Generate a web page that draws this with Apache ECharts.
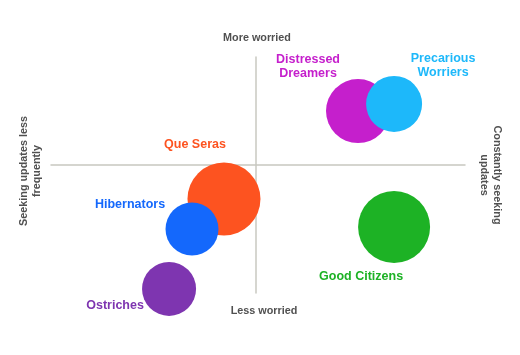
<!DOCTYPE html>
<html>
<head>
<meta charset="utf-8">
<script src="https://cdn.jsdelivr.net/npm/echarts@6/dist/echarts.min.js"></script>
<style>
  html, body { margin: 0; padding: 0; background: #fff; }
  #chart { width: 520px; height: 355px; }
</style>
</head>
<body>
<div id="chart"></div>
<script>
  // segments of people: x = how often they seek updates, y = how worried
  const segments = ['Distressed\nDreamers', 'Precarious\nWorriers', 'Que Seras', 'Hibernators', 'Good Citizens', 'Ostriches'];
  const updateSeeking = [24.9, 33.7, -7.8, -15.6, 33.7, -21.2];
  const worry = [24.8, 28.1, -16.2, -30.2, -29.2, -58.1];
  const bubbleSize = [64, 56, 73, 53, 72, 54];

  const colors = ['#c51fcc', '#1db8fa', '#fd5320', '#1468fc', '#1db225', '#7e35b0'];
  // where each label sits relative to its bubble centre
  const labelOffsets = [[-50, -45], [49, -38], [-29, -54], [-62, -25], [-33, 50], [-54, 17]];

  const chart = echarts.init(document.getElementById('chart'));

  const data = segments.map((name, i) => ({
    name: name,
    value: [updateSeeking[i], worry[i], bubbleSize[i]],
    itemStyle: {color: colors[i]},
    label: {
      show: true,
      position: 'inside',
      offset: labelOffsets[i],
      color: colors[i],
      formatter: '{b}'
    }
  }));

  const axisLine = {
    onZero: true,
    lineStyle: {color: '#c8c8c0', width: 1.5}
  };

  const axisFont = 'bold 10.8px "Liberation Sans", Arial, sans-serif';
  const axisColor = '#505050';

  const option = {
    animation: false,
    grid: {left: 51, right: 55, top: 57, bottom: 62},
    xAxis: {
      type: 'value',
      min: -50,
      max: 51,
      axisLine: axisLine,
      axisTick: {show: false},
      axisLabel: {show: false},
      splitLine: {show: false}
    },
    yAxis: {
      type: 'value',
      min: -60,
      max: 50,
      axisLine: axisLine,
      axisTick: {show: false},
      axisLabel: {show: false},
      splitLine: {show: false}
    },
    series: [{
      type: 'scatter',
      data: data,
      symbolSize: val => val[2],
      itemStyle: {opacity: 1},
      label: {
        fontFamily: '"Liberation Sans", Arial, sans-serif',
        fontWeight: 'bold',
        fontSize: 12.5,
        lineHeight: 14,
        align: 'center'
      },
      emphasis: {disabled: true}
    }],
    graphic: [
      {type: 'text', x: 257, y: 38, style: {text: 'More worried', font: axisFont, fill: axisColor, align: 'center', verticalAlign: 'middle'}},
      {type: 'text', x: 264, y: 311, style: {text: 'Less worried', font: axisFont, fill: axisColor, align: 'center', verticalAlign: 'middle'}},
      {type: 'text', x: 31, y: 171, rotation: Math.PI / 2, style: {text: 'Seeking updates less\nfrequently', font: axisFont, fill: axisColor, align: 'center', verticalAlign: 'middle', lineHeight: 13}},
      {type: 'text', x: 490, y: 175, rotation: -Math.PI / 2, style: {text: 'Constantly seeking\nupdates', font: axisFont, fill: axisColor, align: 'center', verticalAlign: 'middle', lineHeight: 13}}
    ]
  };

  chart.setOption(option);
</script>
</body>
</html>
